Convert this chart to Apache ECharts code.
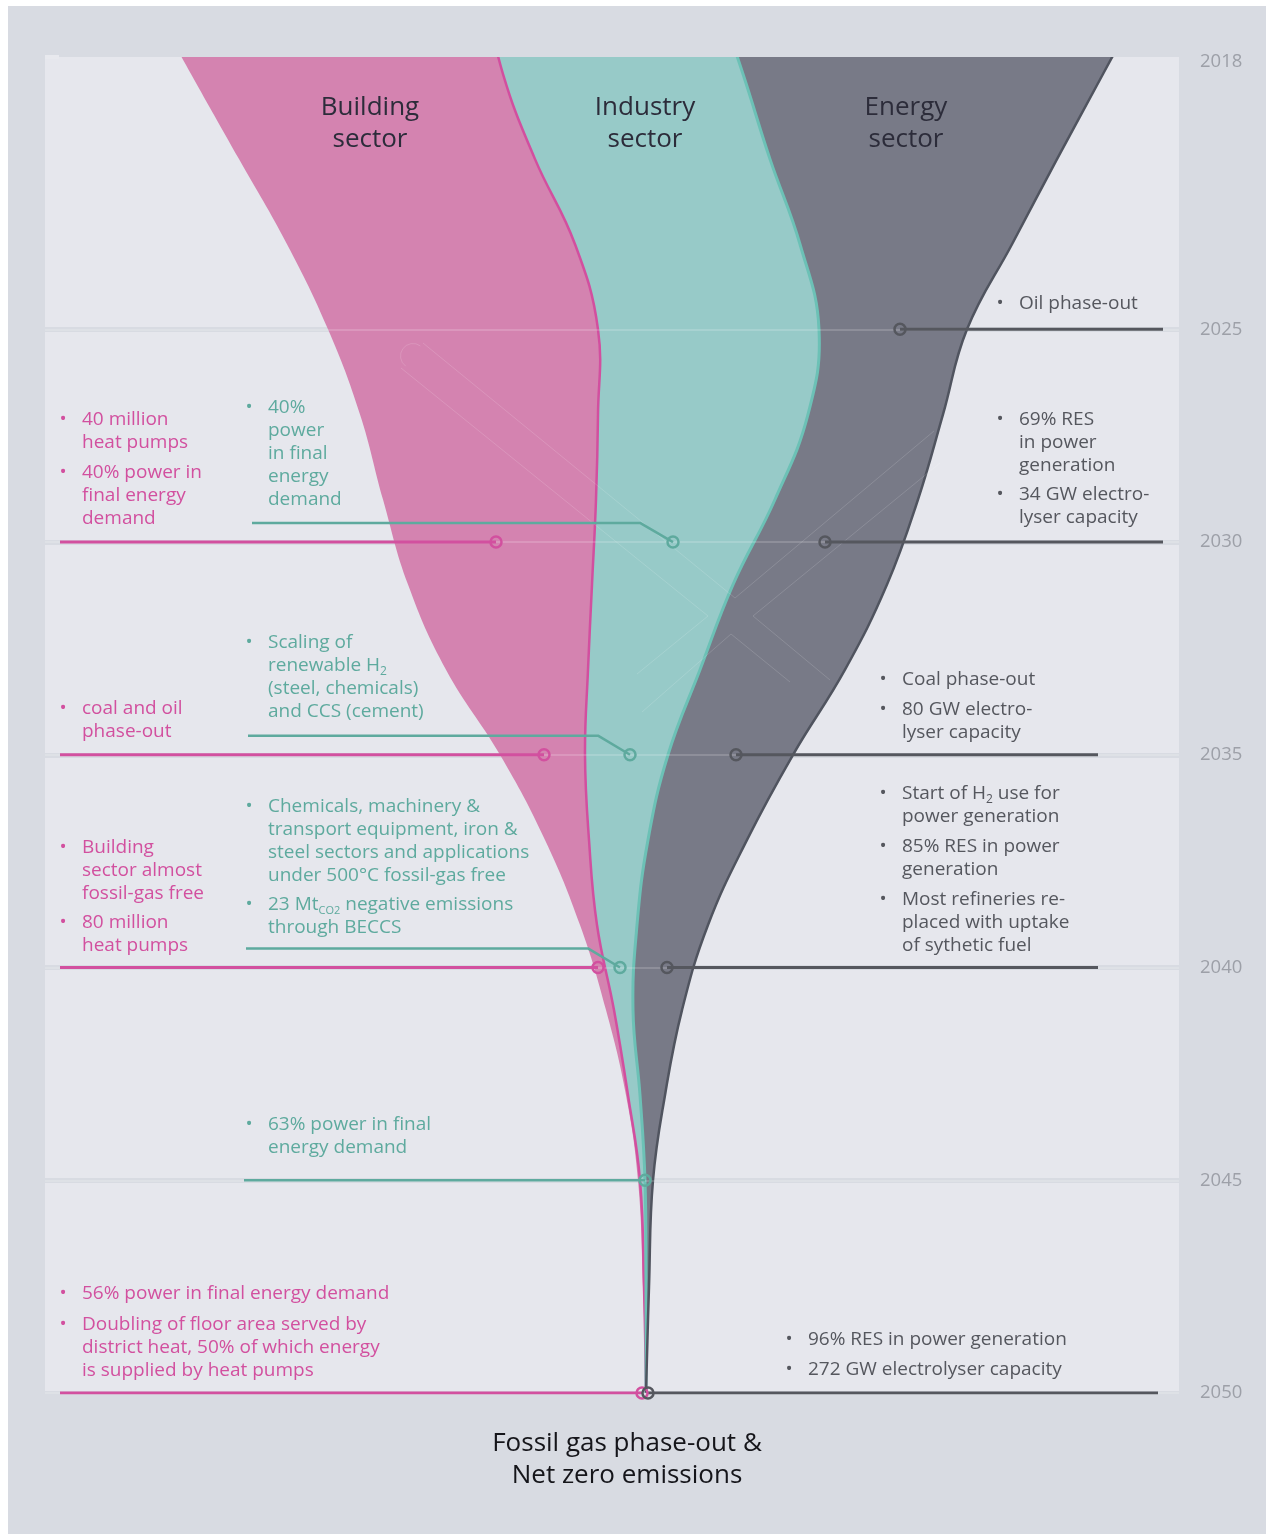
<!DOCTYPE html>
<html>
<head>
<meta charset="utf-8">
<title>Fossil gas phase-out &amp; Net zero emissions</title>
<script src="https://cdn.jsdelivr.net/npm/echarts@6/dist/echarts.min.js"></script>
<style>
  html, body { margin: 0; padding: 0; background: #fff; }
  #chart {
    width: 1266px;
    height: 1534px;
    background: linear-gradient(#d8dbe2, #d8dbe2) 8px 6px / 1258px 1528px no-repeat, #fff;
  }
</style>
</head>
<body>
<div id="chart"></div>
<script>
// year axis (top of the plot sits a little after 2018)
const tickYears = [2018.6, 2025, 2030, 2035, 2040, 2045, 2050]
const tickLabels = ['2018', '2025', '2030', '2035', '2040', '2045', '2050']
const bandYears = [2025, 2030, 2035, 2040, 2045, 2050]

// stream shape: left edge of the gas use, then width of each sector
const streamYears = [2017, 2019, 2021, 2023, 2025, 2027, 2029, 2031, 2033, 2035, 2037, 2039, 2041, 2043, 2045, 2047.5, 2050]
const gasStart = [99, 146, 194, 242, 283, 315, 338, 363, 401, 455, 500, 535, 561, 581, 593, 598, 601]
const building = [340, 312, 296, 288, 270, 238, 213, 184, 142, 85, 44, 17, 8, 2, 2, 1, 0]
const industry = [230, 240, 235, 225, 221, 210, 179, 141, 112, 83, 59, 40, 19, 12, 5, 2, 0]
const energy = [435, 360, 287, 212, 148, 135, 143, 154, 145, 125, 99, 71, 49, 25, 8, 3, 0]

// leader lines of the milestones (x where the line starts / bends / ends)
const buildingNoteYears = [2030, 2035, 2040, 2050]
const buildingNoteFrom = [15, 15, 15, 15]
const buildingNoteTo = [451, 499, 553, 597]

const industryNoteYears = [2030, 2035, 2040, 2045]
const industryNoteFrom = [207, 203, 201, 199]
const industryNoteBend = [595, 553, 543, null]
const industryNoteTo = [628, 585, 575, 600]

const energyNoteYears = [2025, 2030, 2035, 2040, 2050]
const energyNoteFrom = [855, 780, 691, 622, 603]
const energyNoteTo = [1118, 1118, 1053, 1053, 1113]

const PINK = '#d2509f'
const TEAL = '#5eaa9e'
const DARK = '#55575e'
const FONT = '"Open Sans", "Noto Sans", sans-serif'

const chart = echarts.init(document.getElementById('chart'))

function renderStream(params, api) {
  const left = [], b = [], t = [], e = []
  streamYears.forEach((yr, i) => {
    const x0 = gasStart[i]
    const x1 = x0 + building[i]
    const x2 = x1 + industry[i]
    const x3 = x2 + energy[i]
    left.push(api.coord([x0, yr]))
    b.push(api.coord([x1, yr]))
    t.push(api.coord([x2, yr]))
    e.push(api.coord([x3, yr]))
  })
  // doubled end points keep the corners sharp when the outline is smoothed
  const dup = a => [a[0]].concat(a, [a[a.length - 1]])
  const band = (l, r) => dup(l).concat(dup(r).reverse())
  const sm = 0.42
  return {
    type: 'group',
    children: [
      { type: 'polygon', shape: { points: band(left, b), smooth: sm }, style: { fill: '#d483b0' } },
      { type: 'polygon', shape: { points: band(b, t), smooth: sm }, style: { fill: '#97cac8' } },
      { type: 'polygon', shape: { points: band(t, e), smooth: sm }, style: { fill: '#787a87' } },
      { type: 'polyline', shape: { points: b, smooth: sm }, style: { stroke: '#d24f9f', lineWidth: 2.5, fill: null } },
      { type: 'polyline', shape: { points: t, smooth: sm }, style: { stroke: '#6cc1b6', lineWidth: 3, fill: null } },
      { type: 'polyline', shape: { points: e, smooth: sm }, style: { stroke: '#50545f', lineWidth: 2.5, fill: null } }
    ]
  }
}

function leader(points, color) {
  return {
    type: 'line',
    z: 5,
    silent: true,
    data: points.map(p => ({ value: p, symbol: p.ring ? 'circle' : 'none' })),
    symbolSize: 11,
    itemStyle: { color: 'rgba(0,0,0,0)', borderColor: color, borderWidth: 2.5 },
    lineStyle: { color: color, width: 3 },
    emphasis: { disabled: true }
  }
}

function pt(x, y, ring) {
  const p = [x, y]
  p.ring = ring
  return p
}

const leaderSeries = []
buildingNoteYears.forEach((y, i) => {
  leaderSeries.push(leader([pt(buildingNoteFrom[i], y), pt(buildingNoteTo[i], y, true)], PINK))
})
industryNoteYears.forEach((y, i) => {
  const pts = industryNoteBend[i] == null
    ? [pt(industryNoteFrom[i], y), pt(industryNoteTo[i], y, true)]
    : [pt(industryNoteFrom[i], y - 0.45), pt(industryNoteBend[i], y - 0.45), pt(industryNoteTo[i], y, true)]
  const s = leader(pts, TEAL)
  s.lineStyle.width = 2.5
  leaderSeries.push(s)
})
energyNoteYears.forEach((y, i) => {
  leaderSeries.push(leader([pt(energyNoteFrom[i], y, true), pt(energyNoteTo[i], y)], DARK))
})

// text blocks: [textX, centre of first line, text, colour]
const notes = [
  [1019, 304, 'Oil phase-out', DARK],
  [1019, 420, '69% RES\nin power\ngeneration', DARK],
  [1019, 495, '34 GW electro-\nlyser capacity', DARK],
  [902, 680, 'Coal phase-out', DARK],
  [902, 710, '80 GW electro-\nlyser capacity', DARK],
  [902, 794, 'Start of H{s|2} use for\npower generation', DARK],
  [902, 847, '85% RES in power\ngeneration', DARK],
  [902, 900, 'Most refineries re-\nplaced with uptake\nof sythetic fuel', DARK],
  [808, 1340, '96% RES in power generation', DARK],
  [808, 1370, '272 GW electrolyser capacity', DARK],

  [82, 420, '40 million\nheat pumps', PINK],
  [82, 473, '40% power in\nfinal energy\ndemand', PINK],
  [82, 709, 'coal and oil\nphase-out', PINK],
  [82, 848, 'Building\nsector almost\nfossil-gas free', PINK],
  [82, 923, '80 million\nheat pumps', PINK],
  [82, 1294, '56% power in final energy demand', PINK],
  [82, 1325, 'Doubling of floor area served by\ndistrict heat, 50% of which energy\nis supplied by heat pumps', PINK],

  [268, 408, '40%\npower\nin final\nenergy\ndemand', TEAL],
  [268, 643, 'Scaling of\nrenewable H{s|2}\n(steel, chemicals)\nand CCS (cement)', TEAL],
  [268, 807, 'Chemicals, machinery &\ntransport equipment, iron &\nsteel sectors and applications\nunder 500°C fossil-gas free', TEAL],
  [268, 905, '23 Mt{c|CO2} negative emissions\nthrough BECCS', TEAL],
  [268, 1125, '63% power in final\nenergy demand', TEAL]
]

const graphics = []

// faint decorative trace lines behind the labels
const traces = [
  [[423, 343], [735, 598]],
  [[401, 368], [708, 616], [637, 674]],
  [[735, 598], [934, 431]],
  [[753, 616], [940, 463]],
  [[753, 616], [830, 680]],
  [[731, 634], [790, 682]],
  [[642, 712], [731, 634]]
]
traces.forEach(p => {
  graphics.push({
    type: 'polyline', z: 3, silent: true,
    shape: { points: p },
    style: { stroke: 'rgba(255,255,255,0.14)', lineWidth: 1, fill: null }
  })
})
graphics.push({
  type: 'arc', z: 3, silent: true,
  shape: { cx: 413, cy: 356, r: 12.5, startAngle: Math.PI * 0.7, endAngle: Math.PI * 1.7 },
  style: { stroke: 'rgba(255,255,255,0.14)', lineWidth: 1, fill: null }
})

notes.forEach(([x, y, text, color]) => {
  graphics.push({
    type: 'text', z: 100, silent: true,
    style: { text: '•', x: x - 19, y: y, fill: color, font: '19px ' + FONT, align: 'center', verticalAlign: 'middle' }
  })
  graphics.push({
    type: 'text', z: 100, silent: true,
    style: {
      text: text, x: x, y: y - 11.5, fill: color, font: '19px ' + FONT,
      lineHeight: 23, verticalAlign: 'top', align: 'left',
      rich: {
        s: { fill: color, fontSize: 12, fontFamily: FONT, lineHeight: 13, verticalAlign: 'bottom' },
        c: { fill: color, fontSize: 11, fontFamily: FONT, lineHeight: 12, verticalAlign: 'bottom' }
      }
    }
  })
})

const sectors = [[370, 'Building\nsector'], [645, 'Industry\nsector'], [906, 'Energy\nsector']]
sectors.forEach(([x, text]) => {
  graphics.push({
    type: 'text', z: 100, silent: true,
    style: { text: text, x: x, y: 108 - 16, fill: '#2c2c3a', font: '26px ' + FONT, lineHeight: 32, align: 'center', verticalAlign: 'top' }
  })
})
graphics.push({
  type: 'text', z: 100, silent: true,
  style: { text: 'Fossil gas phase-out &\nNet zero emissions', x: 627, y: 1444 - 16, fill: '#15151a', font: '26px ' + FONT, lineHeight: 32, align: 'center', verticalAlign: 'top' }
})

const option = {
  animation: false,
  grid: { left: 45, right: 87, top: 57, bottom: 141, show: true, backgroundColor: '#e6e7ed', borderWidth: 0 },
  xAxis: { type: 'value', min: 0, max: 1134, show: false },
  yAxis: {
    type: 'value',
    inverse: true,
    position: 'right',
    min: tickYears[0],
    max: 2050,
    axisLine: { show: false },
    splitLine: { show: false },
    axisTick: { show: true, length: 14, customValues: tickYears, lineStyle: { color: '#e8e9ee', width: 4 } },
    axisLabel: {
      customValues: tickYears,
      margin: 21,
      color: '#9da0a8',
      fontSize: 18.5,
      fontFamily: FONT,
      formatter: v => {
        const i = tickYears.indexOf(v)
        return i === 0 ? '{t|' + tickLabels[0] + '}' : (i >= 0 ? tickLabels[i] : '')
      },
      rich: { t: { color: '#9da0a8', fontSize: 18.5, fontFamily: FONT, padding: [10, 0, 0, 0] } }
    }
  },
  graphic: { elements: graphics },
  series: [
    {
      type: 'line', data: [], silent: true,
      markLine: {
        z: 1, silent: true, symbol: ['none', 'none'], label: { show: false },
        lineStyle: { color: '#d8dbe2', width: 5, type: 'solid' },
        data: bandYears.map(y => ({ yAxis: y }))
      }
    },
    {
      type: 'custom',
      z: 2,
      clip: true,
      silent: true,
      data: [[0, 2030]],
      renderItem: renderStream
    },
    {
      type: 'line', data: [], silent: true,
      markLine: {
        z: 3, silent: true, symbol: ['none', 'none'], label: { show: false },
        lineStyle: { color: 'rgba(255,255,255,0.22)', width: 1.5, type: 'solid' },
        data: bandYears.map(y => ({ yAxis: y }))
      }
    },
    ...leaderSeries
  ]
}

chart.setOption(option)
window.addEventListener('resize', () => chart.resize())
</script>
</body>
</html>
